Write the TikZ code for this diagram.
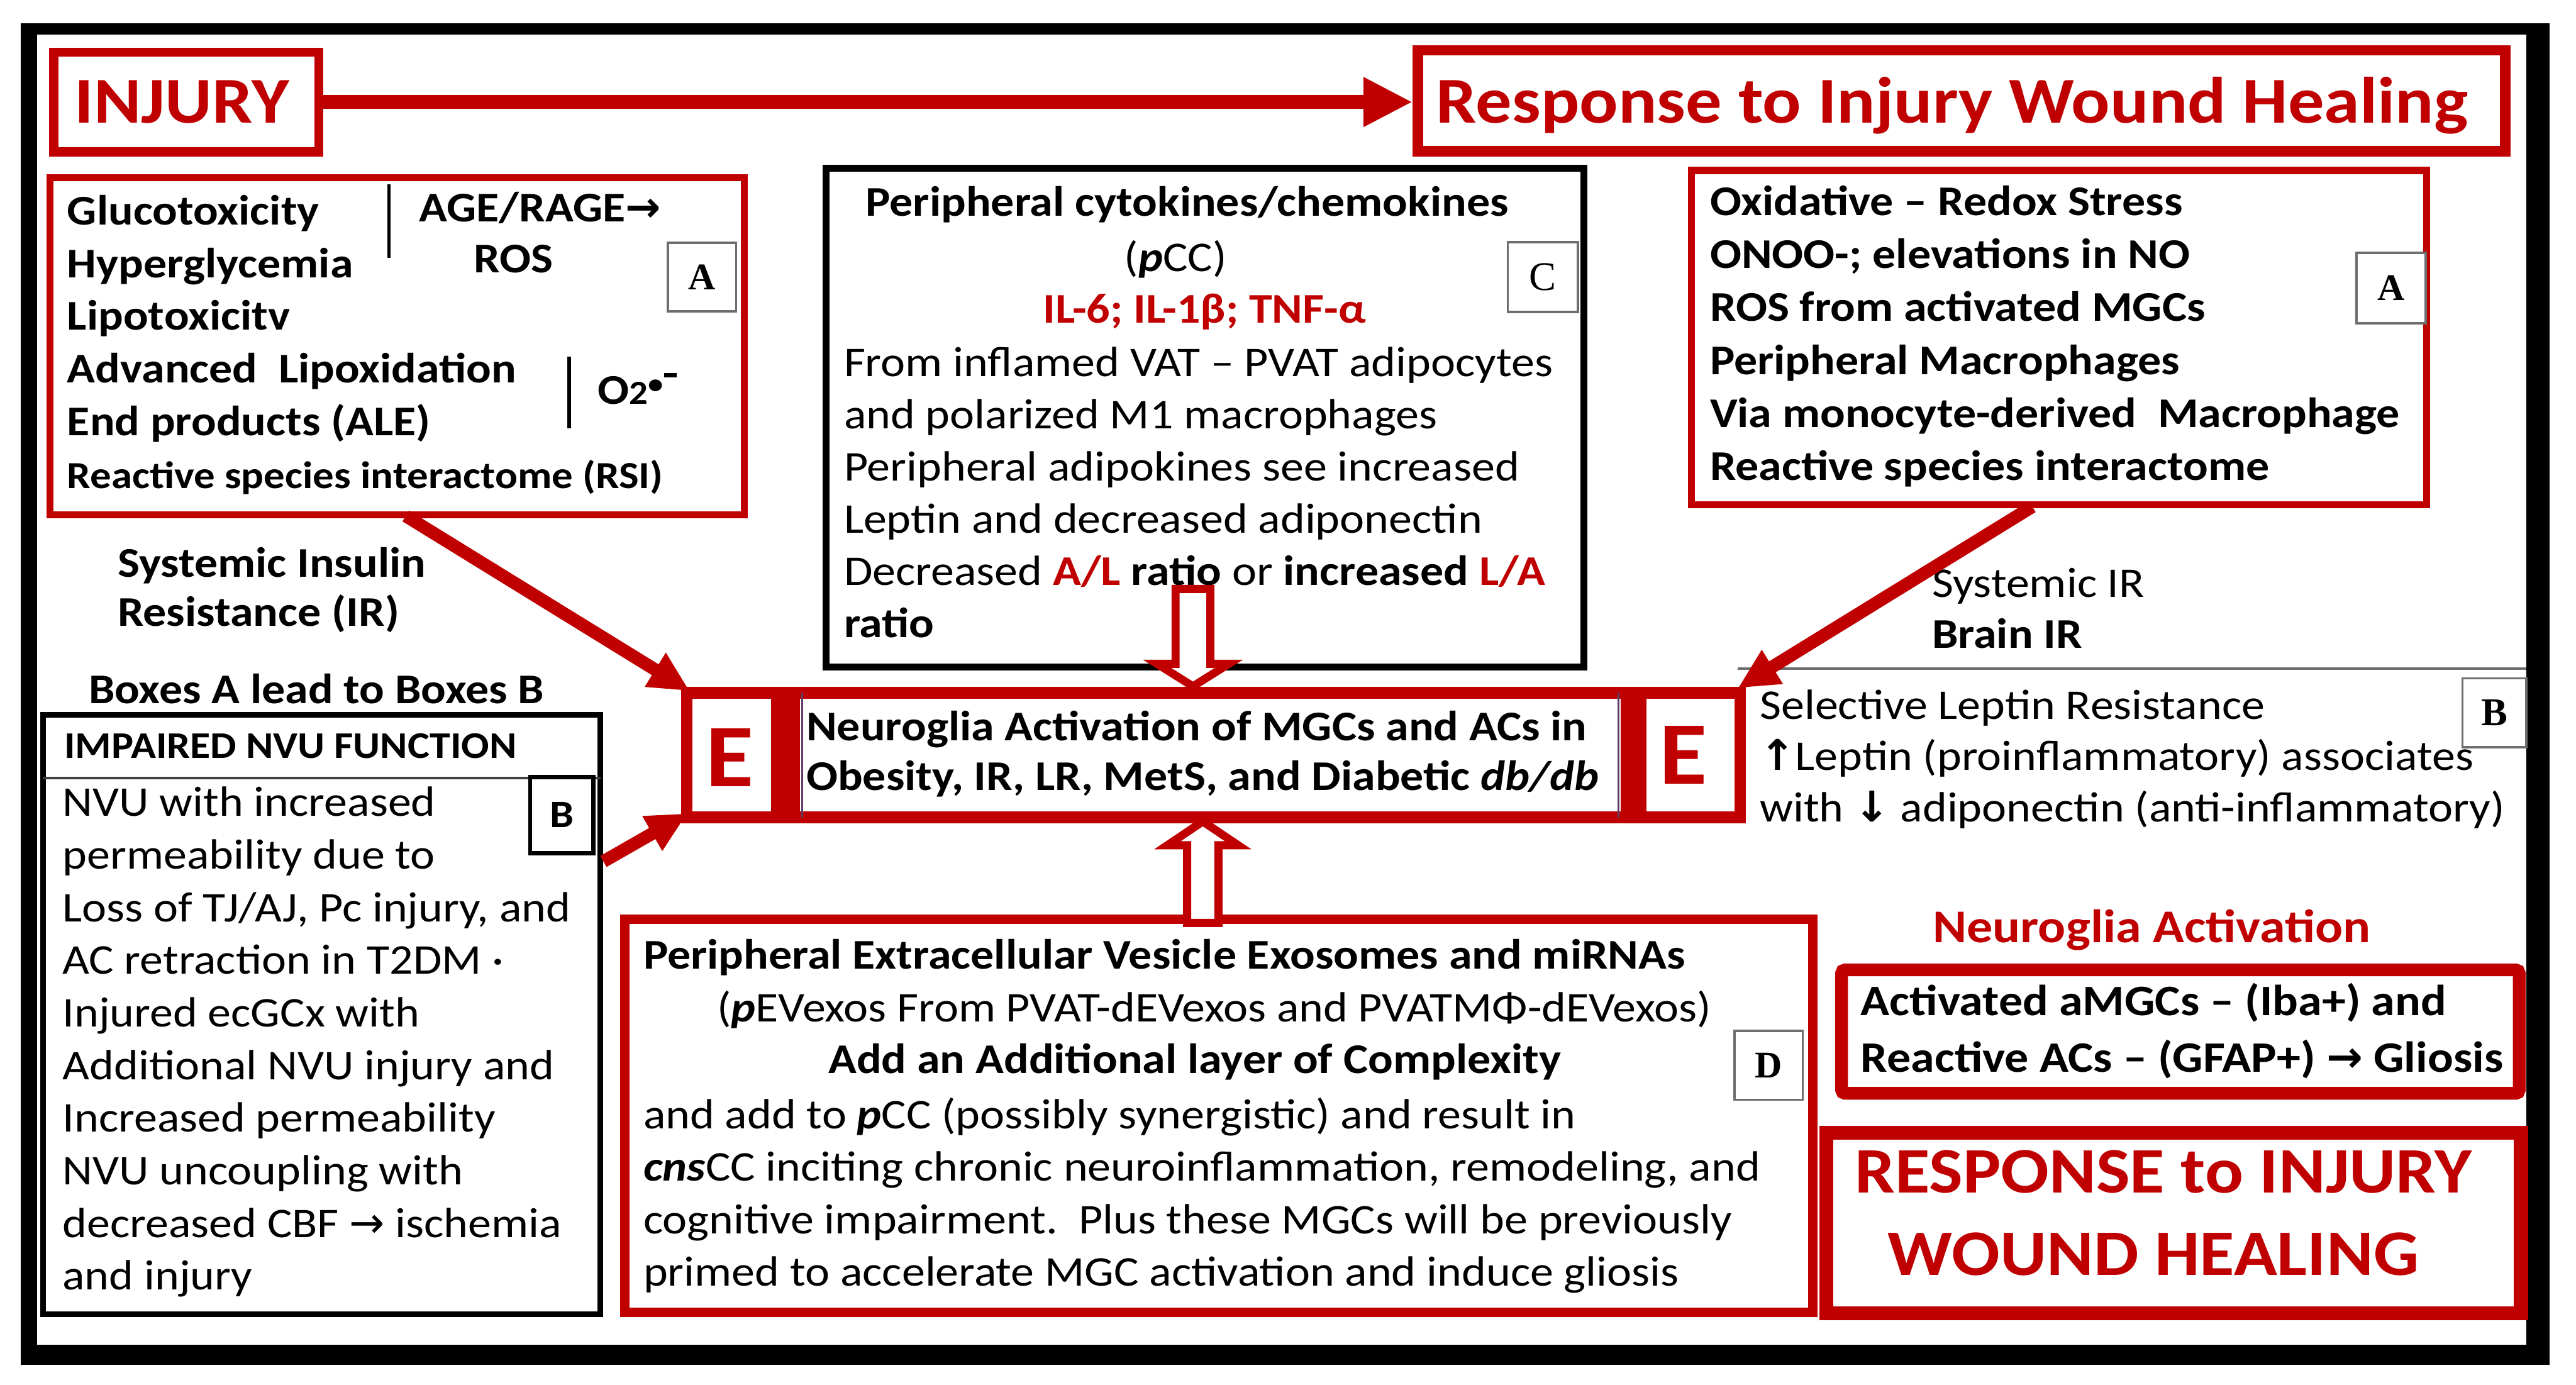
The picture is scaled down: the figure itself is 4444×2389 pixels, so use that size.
\documentclass[tikz,border=0pt]{standalone}
\usepackage{fontspec}
\setmainfont{Carlito}[FakeStretch=1.1]
\newfontfamily\symf{DejaVu Sans}
\newfontfamily\serf{Liberation Serif}
\usetikzlibrary{arrows.meta}
\definecolor{myred}{RGB}{192,0,0}
\definecolor{lblgrey}{RGB}{110,110,110}
\definecolor{sepcol}{RGB}{95,60,100}
\newcommand\fs[2]{\fontsize{#1pt}{#2pt}\selectfont}
\newcommand\lines[1]{\vtop{\halign{##\hfil\cr#1\crcr}}}
\newcommand\ra{{\symf\bfseries →}}
\newcommand\bip{\textbf{\textit{p}}}
% name, style, x1, y1, x2, y2 (outer edges), line width, content
\newcommand\bx[8]{\node[#2, line width=#7pt, minimum width={(#5)-(#3)-(#7)}, minimum height={(#6)-(#4)-(#7)}, inner sep=0pt] (#1) at ({((#3)+(#5))/2},{((#4)+(#6))/2}) {#8};}
\begin{document}
\begin{tikzpicture}[x=1pt,y=-1pt,
  rb/.style={draw=myred, fill=white},
  kb/.style={draw=black, fill=white},
  gb/.style={draw=lblgrey, fill=white},
  txt/.style={anchor=base west, inner sep=0pt, outer sep=0pt},
  bt/.style={txt, font=\fs{73}{90}\bfseries},
  rt/.style={txt, font=\fs{73}{90}},
  redarrow/.style={draw=myred, line width=22pt, -{Triangle[length=70pt,width=64pt]}},
  hollow/.style={draw=myred, fill=white, line width=14pt, line join=miter},
  sepline/.style={draw=sepcol, line width=4pt}]
\useasboundingbox (0,0) rectangle (4444,2389);
\fill[white] (0,0) rectangle (4444,2389);
% outer frame
\fill[black] (36,40) rectangle (4398,2354);
\fill[white] (64,60) rectangle (4358,2320);

% boxes
\bx{injury}{rb}{85}{82}{558}{270}{16}{}
\bx{resp}{rb}{2437}{78}{4331}{270}{18}{}
\bx{boxAL}{rb}{80}{300}{1290}{894}{12}{}
\bx{boxC}{kb}{1419}{284}{2738}{1157}{12}{}
\bx{boxAR}{rb}{2912}{288}{4192}{877}{12}{}
\bx{nvu}{kb}{69}{1228}{1041}{2272}{10}{}
\bx{boxD}{rb}{1070}{1578}{3135}{2272}{16}{}
\bx{act}{rb, rounded corners=6pt}{3166}{1662}{4357}{1897}{22}{}
\bx{resp2}{rb}{3139}{1942}{4361}{2277}{24}{}
\bx{cent}{rb}{1175}{1185}{3012}{1420}{20}{}

% separators of the central box
\fill[myred] (1330,1185) rectangle (1380,1420);
\fill[myred] (2796,1185) rectangle (2840,1420);
\draw[sepline] (1384,1195) -- (1384,1410);
\draw[sepline] (2792,1195) -- (2792,1410);

% NVU header line
\draw[line width=4pt, black!75] (74,1342) -- (1036,1342);

% label boxes
\bx{lblA1}{gb, font=\serf\fs{65}{70}\bfseries}{1150}{417}{1272}{539}{4}{A}
\bx{lblC}{gb, font=\serf\fs{70}{75}}{2599}{416}{2724}{540}{4}{C}
\bx{lblA2}{gb, font=\serf\fs{65}{70}\bfseries}{4063}{434}{4187}{560}{4}{A}
\bx{lblB2}{gb, font=\serf\fs{68}{70}\bfseries}{4246}{1168}{4360}{1291}{4}{B}
\bx{lblD}{gb, font=\serf\fs{65}{70}\bfseries}{2990}{1776}{3112}{1899}{4}{D}
\bx{lblB1}{kb, font=\fs{67}{70}\bfseries}{911}{1337}{1027}{1475}{7}{B}

% titles
\node[txt, font=\fs{113}{120}\bfseries, text=myred] (tInjury) at (129,212) {INJURY};
\node[txt, font=\fs{113}{120}\bfseries, text=myred] (tResp) at (2478,212) {Response to Injury Wound Healing};

% box A left
\node[bt, font=\fs{73}{90.8}\bfseries] (tAL) at (116,388) {\lines{Glucotoxicity\cr Hyperglycemia\cr Lipotoxicitv\cr Advanced\ \ Lipoxidation\cr End products (ALE)}};
\node[txt, font=\fs{66}{70}\bfseries] (tRSI) at (116,842) {Reactive species interactome (RSI)};
\node[bt] (tAGE) at (723,382) {AGE/RAGE\ra};
\node[bt] (tROS) at (817,470) {ROS};
\node[bt] (tO2) at (1031,697) {O{\fs{58}{60}2}{\fs{48}{50}\raisebox{18pt}{•}}\kern2pt\raisebox{46pt}{\rule{22pt}{8pt}}};
\draw[line width=6pt] (671,318) -- (671,445);
\draw[line width=6pt] (982,615) -- (982,739);

% left texts
\node[bt, font=\fs{73}{85}\bfseries] (tSIR) at (203,995) {\lines{Systemic Insulin\cr Resistance (IR)}};
\node[bt] (tBoxes) at (153,1213) {Boxes A lead to Boxes B};

% NVU box
\node[txt, font=\fs{65}{70}\bfseries] (tImp) at (111,1308) {IMPAIRED NVU FUNCTION};
\node[rt, font=\fs{73}{90.8}] (tNVU) at (108,1408) {\lines{NVU with increased\cr permeability due to\cr Loss of TJ/AJ, Pc injury, and\cr AC retraction in T2DM ·\cr Injured ecGCx with\cr Additional NVU injury and\cr Increased permeability\cr NVU uncoupling with\cr decreased CBF {\symf →} ischemia\cr and injury}};

% box C
\node[txt, anchor=base, font=\fs{73}{90}\bfseries] (tCt) at (2048,373) {Peripheral cytokines/chemokines};
\node[txt, anchor=base, font=\fs{73}{90}] (tpCC) at (2028,468) {(\bip CC)};
\node[txt, anchor=base, font=\fs{73}{90}\bfseries, text=myred] (tIL) at (2078,557) {IL-6; IL-1β; TNF-α};
\node[rt, font=\fs{73}{90.2}] (tCb) at (1456,649) {\lines{From inflamed VAT – PVAT adipocytes\cr and polarized M1 macrophages\cr Peripheral adipokines see increased\cr Leptin and decreased adiponectin\cr Decreased \textbf{\color{myred}A/L} \textbf{ratio} or \textbf{increased {\color{myred}L/A}}\cr \textbf{ratio}}};

% box A right
\node[bt, font=\fs{73}{91.2}\bfseries] (tAR) at (2950,372) {\lines{Oxidative – Redox Stress\cr ONOO-; elevations in NO\cr ROS from activated MGCs\cr Peripheral Macrophages\cr Via monocyte-derived\ \ Macrophage\cr Reactive species interactome}};

% right middle texts
\node[rt] (tSysIR) at (3333,1030) {Systemic IR};
\node[bt] (tBrain) at (3333,1118) {Brain IR};
\draw[line width=4pt, lblgrey] (2998,1153) -- (4358,1153);
\node[rt, font=\fs{73}{88}] (tLR) at (3036,1241) {\lines{Selective Leptin Resistance\cr {\symf\bfseries ↑}Leptin (proinflammatory) associates\cr with {\symf\bfseries ↓} adiponectin (anti-inflammatory)}};

% central box
\node[txt, anchor=base, font=\fs{154}{160}\bfseries, text=myred] (eL) at (1259,1357) {E};
\node[txt, anchor=base, font=\fs{154}{160}\bfseries, text=myred] (eR) at (2904,1352) {E};
\node[bt, font=\fs{73}{86}\bfseries] (tCent) at (1391,1277) {\lines{Neuroglia Activation of MGCs and ACs in\cr Obesity, IR, LR, MetS, and Diabetic \textit{db/db}}};

% box D
\node[bt] (tD1) at (1110,1671) {Peripheral Extracellular Vesicle Exosomes and miRNAs};
\node[rt] (tD2) at (1237,1762) {(\bip EVexos From PVAT-dEVexos and PVATMΦ-dEVexos)};
\node[txt, anchor=base, font=\fs{73}{90}\bfseries] (tD3) at (2061,1852) {Add an Additional layer of Complexity};
\node[rt, font=\fs{73}{90.3}] (tD4) at (1110,1947) {\lines{and add to \bip CC (possibly synergistic) and result in\cr \textbf{\textit{cns}}CC inciting chronic neuroinflammation, remodeling, and\cr cognitive impairment.\ \ Plus these MGCs will be previously\cr primed to accelerate MGC activation and induce gliosis}};

% right bottom
\node[txt, anchor=base, font=\fs{81}{90}\bfseries, text=myred] (tNA) at (3712,1626) {Neuroglia Activation};
\node[bt, font=\fs{75}{97}\bfseries] (tAct) at (3210,1752) {\lines{Activated aMGCs – (Iba+) and\cr Reactive ACs – (GFAP+) {\symf →} Gliosis}};
\node[txt, anchor=base, font=\fs{112}{140}\bfseries, text=myred] (tR1) at (3732,2058) {RESPONSE to INJURY};
\node[txt, anchor=base, font=\fs{112}{140}\bfseries, text=myred] (tR2) at (3715,2200) {WOUND HEALING};

% connectors
\coordinate (srcL1) at (700,890);
\coordinate (tipL1) at (1190,1192);
\coordinate (srcL2) at (1041,1486);
\coordinate (tipL2) at (1186,1403);
\coordinate (srcR) at (3506,874);
\coordinate (tipR) at (2998,1187);
\draw[draw=myred, line width=24pt, -{Triangle[length=85pt,width=80pt]}] (injury.east) -- (injury.east -| resp.west);
\draw[redarrow] (srcL1) -- (tipL1);
\draw[redarrow] (srcL2) -- (tipL2);
\draw[redarrow] (srcR) -- (tipR);

% hollow block arrows
\draw[hollow] (2028,1016) -- (2088,1016) -- (2088,1145) -- (2120,1145) -- (2058,1184) -- (1996,1145) -- (2028,1145) -- cycle;
\draw[hollow] (2048,1592) -- (2102,1592) -- (2102,1458) -- (2136,1458) -- (2075,1417) -- (2014,1458) -- (2048,1458) -- cycle;
\end{tikzpicture}
\end{document}
